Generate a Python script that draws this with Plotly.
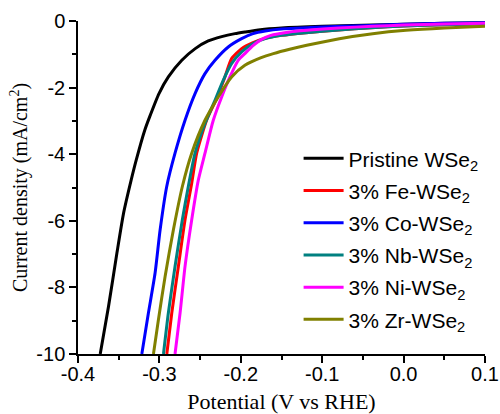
import plotly.graph_objects as go

names = ["Pristine WSe<sub>2</sub>", "3% Fe-WSe<sub>2</sub>", "3% Co-WSe<sub>2</sub>",
         "3% Nb-WSe<sub>2</sub>", "3% Ni-WSe<sub>2</sub>", "3% Zr-WSe<sub>2</sub>"]
colors = ["#000000", "#FF0000", "#0000FF", "#008080", "#FF00FF", "#808000"]

x_tick_vals = [-0.4, -0.3, -0.2, -0.1, 0.0, 0.1]
x_tick_text = ["-0.4", "-0.3", "-0.2", "-0.1", "0.0", "0.1"]
y_tick_vals = [-10, -8, -6, -4, -2, 0]
y_tick_text = ["-10", "-8", "-6", "-4", "-2", "0"]

pristine_x = [-0.3727, -0.3625, -0.3522, -0.344, -0.3347, -0.3285, -0.3180, -0.3120, -0.3005, -0.289, -0.2725, -0.256, -0.240, -0.2235, -0.2072, -0.195, -0.176, -0.15, -0.1, -0.05, 0.0, 0.05, 0.1]
pristine_y = [-10.0, -8.57, -6.97, -5.77, -4.78, -4.18, -3.28, -2.88, -2.18, -1.68, -1.18, -0.83, -0.60, -0.47, -0.38, -0.33, -0.26, -0.21, -0.16, -0.13, -0.10, -0.07, -0.05]

fe_x = [-0.2909, -0.2848, -0.2767, -0.2685, -0.2603, -0.2542, -0.242, -0.2297, -0.2195, -0.2113, -0.199, -0.185, -0.17, -0.15, -0.12, -0.08, -0.04, 0.0, 0.05, 0.1]
fe_y = [-10.0, -8.77, -7.37, -5.97, -4.87, -3.97, -2.98, -2.33, -1.68, -1.13, -0.83, -0.65, -0.52, -0.43, -0.35, -0.27, -0.20, -0.15, -0.11, -0.08]

co_x = [-0.3216, -0.3135, -0.3053, -0.2991, -0.291, -0.2808, -0.2685, -0.2562, -0.244, -0.2317, -0.2154, -0.199, -0.185, -0.17, -0.15, -0.1, -0.05, 0.0, 0.05, 0.1]
co_y = [-10.0, -8.77, -7.57, -6.27, -4.97, -3.97, -2.98, -2.18, -1.58, -1.18, -0.78, -0.53, -0.38, -0.30, -0.24, -0.18, -0.14, -0.10, -0.07, -0.05]

nb_x = [-0.295, -0.289, -0.2808, -0.2718, -0.2645, -0.2562, -0.244, -0.2317, -0.2216, -0.2113, -0.199, -0.185, -0.17, -0.15, -0.12, -0.08, -0.04, 0.0, 0.05, 0.1]
nb_y = [-10.0, -8.77, -7.37, -5.97, -4.97, -3.97, -3.08, -2.38, -1.78, -1.28, -0.93, -0.68, -0.53, -0.43, -0.35, -0.27, -0.20, -0.15, -0.11, -0.08]

ni_x = [-0.2808, -0.2746, -0.2685, -0.2603, -0.2522, -0.244, -0.2338, -0.2235, -0.2134, -0.2032, -0.195, -0.185, -0.175, -0.164, -0.14, -0.119, -0.08, -0.038, 0.0, 0.05, 0.1]
ni_y = [-10.0, -8.77, -7.37, -5.97, -4.78, -3.97, -2.98, -2.28, -1.68, -1.18, -0.98, -0.74, -0.56, -0.44, -0.33, -0.28, -0.21, -0.16, -0.12, -0.09, -0.07]

zr_x = [-0.3073, -0.3012, -0.293, -0.2828, -0.2718, -0.2603, -0.244, -0.2277, -0.2113, -0.195, -0.175, -0.160, -0.14, -0.119, -0.079, -0.038, 0.003, 0.05, 0.1]
zr_y = [-10.0, -8.97, -7.67, -6.27, -4.97, -3.97, -2.98, -2.28, -1.68, -1.33, -1.10, -0.98, -0.85, -0.73, -0.53, -0.38, -0.28, -0.21, -0.16]

xs = [pristine_x, fe_x, co_x, nb_x, ni_x, zr_x]
ys = [pristine_y, fe_y, co_y, nb_y, ni_y, zr_y]

fig = go.Figure()
for i, (n, c, x, y) in enumerate(zip(names, colors, xs, ys)):
    fig.add_trace(go.Scatter(x=x, y=y, mode="lines", name=n, legendgroup=str(i),
                             line=dict(color=c, width=3, shape="spline", smoothing=0.6)))

sans = "Arial, Liberation Sans, sans-serif"
serif = "Times New Roman, Liberation Serif, serif"

fig.update_layout(
    width=500, height=414,
    margin=dict(l=78, r=15, t=21, b=60),
    paper_bgcolor="white", plot_bgcolor="white",
    font=dict(family=sans, size=20, color="black"),
    showlegend=True,
    legend=dict(x=0.542, y=0.648, xanchor="left", yanchor="top",
                bgcolor="rgba(0,0,0,0)", font=dict(family=sans, size=21),
                tracegroupgap=1.9, itemwidth=40),
    xaxis=dict(range=[-0.4, 0.1], tickvals=x_tick_vals, ticktext=x_tick_text,
               automargin=False,
               showline=True, linecolor="black", linewidth=1.5, mirror=False,
               ticks="outside", ticklen=7, tickwidth=1.5, tickcolor="black",
               minor=dict(dtick=0.05, ticks="outside", ticklen=4, tickwidth=1.5, tickcolor="black"),
               showgrid=False, zeroline=False, ticklabelstandoff=-6,
               tickfont=dict(family=sans, size=20),
               title=dict(text="Potential (V vs RHE)", font=dict(family=serif, size=22), standoff=14)),
    yaxis=dict(range=[-10, 0], tickvals=y_tick_vals, ticktext=y_tick_text,
               automargin=False,
               showline=True, linecolor="black", linewidth=1.5, mirror=False,
               ticks="outside", ticklen=7, tickwidth=1.5, tickcolor="black",
               minor=dict(dtick=1, ticks="outside", ticklen=4, tickwidth=1.5, tickcolor="black"),
               showgrid=False, zeroline=False,
               tickfont=dict(family=sans, size=20),
               title=dict(text="Current density (mA/cm<sup>2</sup>)", font=dict(family=serif, size=20), standoff=3)),
)

fig.write_html("out.html")
